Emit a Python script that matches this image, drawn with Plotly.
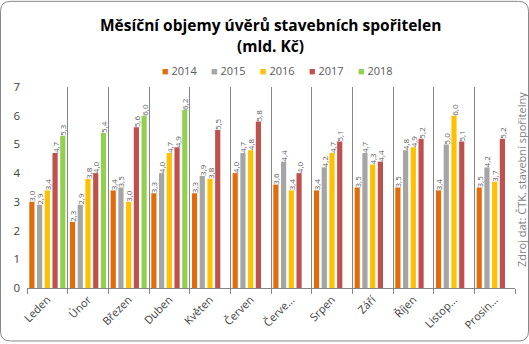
import plotly.graph_objects as go

# Monthly volumes of building-society loans (bn CZK)
months = ["Leden", "Únor", "Březen", "Duben", "Květen", "Červen",
          "Červenec", "Srpen", "Září", "Říjen", "Listopad", "Prosinec"]
tick_labels = ["Leden", "Únor", "Březen", "Duben", "Květen", "Červen",
               "Červe...", "Srpen", "Září", "Říjen", "Listop...", "Prosin..."]

years = ["2014", "2015", "2016", "2017", "2018"]
v2014 = [3.0, 2.3, 3.4, 3.3, 3.3, 4.0, 3.6, 3.4, 3.5, 3.5, 3.4, 3.5]
v2015 = [2.9, 2.9, 3.5, 4.0, 3.9, 4.7, 4.4, 4.2, 4.7, 4.8, 5.0, 4.2]
v2016 = [3.4, 3.8, 3.0, 4.7, 3.8, 4.8, 3.4, 4.7, 4.3, 4.9, 6.0, 3.7]
v2017 = [4.7, 4.0, 5.6, 4.9, 5.5, 5.8, 4.0, 5.1, 4.4, 5.2, 5.1, 5.2]
v2018 = [5.3, 5.4, 6.0, 6.2, None, None, None, None, None, None, None, None]

series = [v2014, v2015, v2016, v2017, v2018]
colors = ["#E36C0A", "#A5A5A5", "#FFC000", "#C0504D", "#92D050"]

FONT = "Open Sans"
W, H = 529, 344
L, R, T, B = 27, 14, 87, 54
pw, ph = W - L - R, H - T - B


def px_x(x):
    return (x - L) / pw


def px_y(y):
    return (H - B - y) / ph


fig = go.Figure()
for name, vals, col in zip(years, series, colors):
    fig.add_trace(go.Bar(
        x=months, y=vals, name=name, showlegend=False,
        marker=dict(color=col, line=dict(width=0)),
        text=[("" if v is None else f"{v:.1f}".replace(".", ",")) for v in vals],
        textposition="outside", textangle=-90, constraintext="none",
        cliponaxis=False,
        textfont=dict(family=FONT, size=8, color="#595959"),
    ))

# compact series key: coloured square followed by the year
gap = "\u00a0" * 5
key_text = gap.join(
    f"<span style='color:{c}'>■</span>\u00a0{y}" for y, c in zip(years, colors)
)

# rounded outer frame
x0, x1, y0, y1, r = 0.5, W - 0.5, 0.5, H - 0.5, 10
path = (
    f"M {px_x(x0 + r)},{px_y(y0)} L {px_x(x1 - r)},{px_y(y0)} "
    f"Q {px_x(x1)},{px_y(y0)} {px_x(x1)},{px_y(y0 + r)} "
    f"L {px_x(x1)},{px_y(y1 - r)} "
    f"Q {px_x(x1)},{px_y(y1)} {px_x(x1 - r)},{px_y(y1)} "
    f"L {px_x(x0 + r)},{px_y(y1)} "
    f"Q {px_x(x0)},{px_y(y1)} {px_x(x0)},{px_y(y1 - r)} "
    f"L {px_x(x0)},{px_y(y0 + r)} "
    f"Q {px_x(x0)},{px_y(y0)} {px_x(x0 + r)},{px_y(y0)} Z"
)

fig.update_layout(
    width=W, height=H,
    margin=dict(l=L, r=R, t=T, b=B),
    paper_bgcolor="white", plot_bgcolor="white",
    barmode="group", bargap=0.05, bargroupgap=0.33,
    font=dict(family=FONT, color="#595959", size=11),
    xaxis=dict(
        tickmode="array", tickvals=months, ticktext=tick_labels,
        tickangle=-45, tickson="boundaries",
        ticks="outside", ticklen=5, tickcolor="#868686",
        showgrid=True, gridcolor="#868686", gridwidth=1,
        showline=True, linecolor="#868686", linewidth=1,
        tickfont=dict(family=FONT, size=11, color="#404040"),
    ),
    yaxis=dict(
        range=[0, 7], dtick=1, showgrid=False, zeroline=False,
        showline=False, ticks="", ticklabelstandoff=6,
        tickfont=dict(family=FONT, size=11.5, color="#404040"),
    ),
    shapes=[dict(type="path", xref="paper", yref="paper", path=path,
                 line=dict(color="#888888", width=1), layer="above")],
    annotations=[
        dict(text="<b>Měsíční objemy úvěrů stavebních spořitelen</b>",
             xref="paper", yref="paper", x=px_x(270), y=px_y(24),
             xanchor="center", yanchor="middle",
             showarrow=False, font=dict(family=FONT, size=15.5, color="#000000")),
        dict(text="<b>(mld. Kč)</b>",
             xref="paper", yref="paper", x=px_x(270), y=px_y(46),
             xanchor="center", yanchor="middle",
             showarrow=False, font=dict(family=FONT, size=15.5, color="#000000")),
        dict(text=key_text,
             xref="paper", yref="paper", x=px_x(277), y=px_y(70),
             xanchor="center", yanchor="middle",
             showarrow=False, font=dict(family=FONT, size=11, color="#595959")),
        dict(text="Zdroj dat: ČTK, stavební spořitelny", textangle=-90,
             xref="paper", yref="paper", x=px_x(521), y=px_y(181),
             xanchor="center", yanchor="middle",
             showarrow=False, font=dict(family=FONT, size=11, color="#7F7F7F")),
    ],
)

fig.write_html("out.html")
